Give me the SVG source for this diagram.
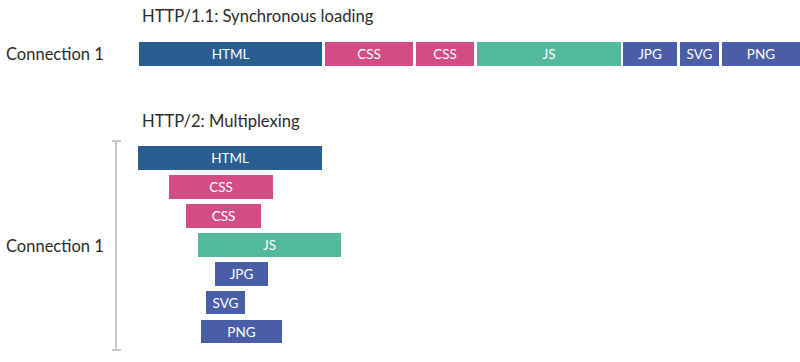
<svg xmlns="http://www.w3.org/2000/svg" width="800" height="362" viewBox="0 0 800 362">
<style>
.t{font-family:Lato,"Liberation Sans",sans-serif;fill:#2b2b2b}
.h{font-size:16.6px}
.c{font-size:16.5px}
.l{font-family:Lato,"Liberation Sans",sans-serif;font-size:13.5px;fill:#fff;text-anchor:middle}
.html{fill:#2b5e90}
.css{fill:#d14d83}
.js{fill:#52b99a}
.img{fill:#4a5ea8}
.br{stroke:#c8c8c8;stroke-width:2;fill:none}
</style>
<rect width="800" height="362" fill="#fff"/>
<text class="t h" x="142" y="22">HTTP/1.1: Synchronous loading</text>
<text class="t h" x="142" y="127">HTTP/2: Multiplexing</text>
<text class="t c" x="6" y="60">Connection 1</text>
<text class="t c" x="6" y="251.5">Connection 1</text>
<g id="connectors">
<path class="br" d="M116 141V350M112 141H121M112 350H121"/>
</g>
<g id="h1-html"><rect class="html" x="139" y="42" width="183" height="24"/><text class="l" x="230.5" y="59">HTML</text></g>
<g id="h1-css1"><rect class="css" x="325" y="42" width="88" height="24"/><text class="l" x="369" y="59">CSS</text></g>
<g id="h1-css2"><rect class="css" x="416" y="42" width="58" height="24"/><text class="l" x="445" y="59">CSS</text></g>
<g id="h1-js"><rect class="js" x="477" y="42" width="144" height="24"/><text class="l" x="549" y="59">JS</text></g>
<g id="h1-jpg"><rect class="img" x="623" y="42" width="54" height="24"/><text class="l" x="650" y="59">JPG</text></g>
<g id="h1-svg"><rect class="img" x="680" y="42" width="39" height="24"/><text class="l" x="699.5" y="59">SVG</text></g>
<g id="h1-png"><rect class="img" x="722" y="42" width="78" height="24"/><text class="l" x="761" y="59">PNG</text></g>
<g id="h2-html"><rect class="html" x="138" y="146" width="184" height="24"/><text class="l" x="230" y="163">HTML</text></g>
<g id="h2-css1"><rect class="css" x="169" y="175" width="104" height="24"/><text class="l" x="221" y="192">CSS</text></g>
<g id="h2-css2"><rect class="css" x="186" y="204" width="75" height="24"/><text class="l" x="223.5" y="221">CSS</text></g>
<g id="h2-js"><rect class="js" x="198" y="233" width="143" height="24"/><text class="l" x="269.5" y="250">JS</text></g>
<g id="h2-jpg"><rect class="img" x="215" y="262" width="53" height="24"/><text class="l" x="241.5" y="279">JPG</text></g>
<g id="h2-svg"><rect class="img" x="206" y="291" width="39" height="23"/><text class="l" x="225.5" y="307.5">SVG</text></g>
<g id="h2-png"><rect class="img" x="201" y="320" width="81" height="23"/><text class="l" x="241.5" y="336.5">PNG</text></g>
</svg>
